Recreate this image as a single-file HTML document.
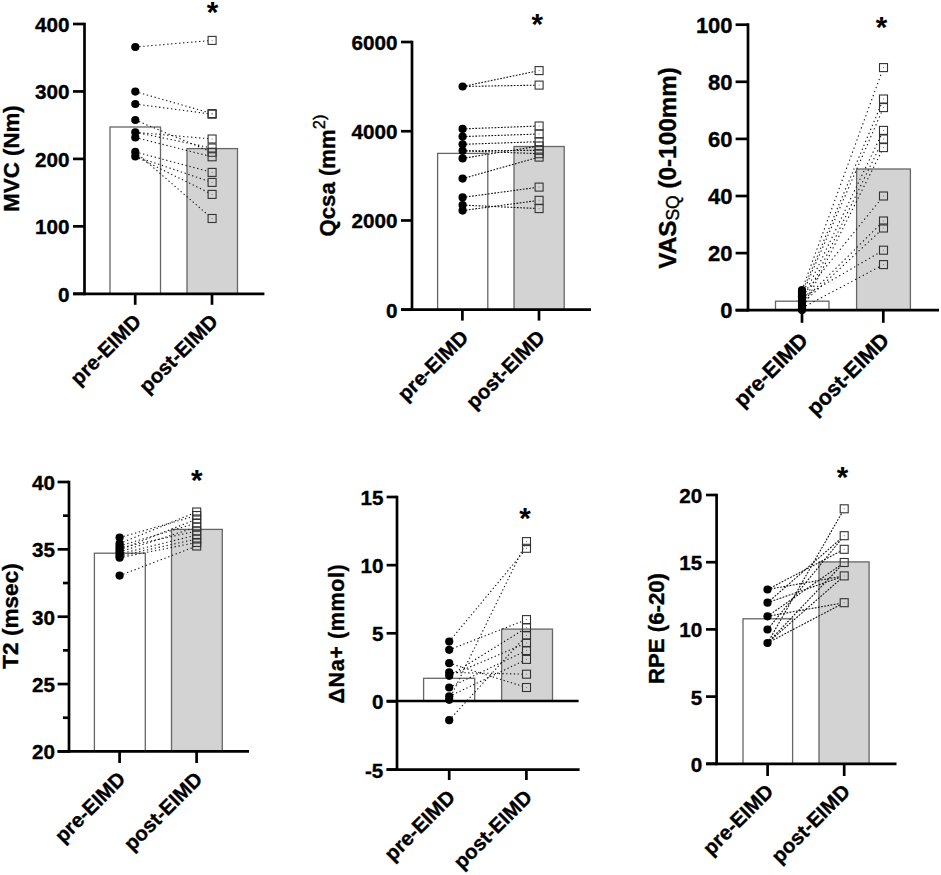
<!DOCTYPE html>
<html><head><meta charset="utf-8"><style>
html,body{margin:0;padding:0;background:#fff;}
svg{display:block;}
text{font-family:"Liberation Sans", sans-serif;font-weight:bold;fill:#000;stroke:#000;stroke-width:0.35px;}
</style></head><body>
<svg width="941" height="875" viewBox="0 0 941 875">
<line x1="84.5" y1="22.65" x2="84.5" y2="295.15000000000003" stroke="#000" stroke-width="2.7"/>
<line x1="73" y1="293.8" x2="84.5" y2="293.8" stroke="#000" stroke-width="2.7"/>
<text x="69.5" y="301.8" text-anchor="end" font-size="20.7">0</text>
<line x1="73" y1="226.35000000000002" x2="84.5" y2="226.35000000000002" stroke="#000" stroke-width="2.7"/>
<text x="69.5" y="234.35000000000002" text-anchor="end" font-size="20.7">100</text>
<line x1="73" y1="158.9" x2="84.5" y2="158.9" stroke="#000" stroke-width="2.7"/>
<text x="69.5" y="166.9" text-anchor="end" font-size="20.7">200</text>
<line x1="73" y1="91.44999999999999" x2="84.5" y2="91.44999999999999" stroke="#000" stroke-width="2.7"/>
<text x="69.5" y="99.44999999999999" text-anchor="end" font-size="20.7">300</text>
<line x1="73" y1="24.0" x2="84.5" y2="24.0" stroke="#000" stroke-width="2.7"/>
<text x="69.5" y="32.0" text-anchor="end" font-size="20.7">400</text>
<rect x="110" y="127" width="50.5" height="166.8" fill="#fff" stroke="#666" stroke-width="1.3"/>
<rect x="187" y="148.6" width="50.5" height="145.20000000000002" fill="#d3d3d3" stroke="#666" stroke-width="1.3"/>
<line x1="73" y1="293.8" x2="264.4" y2="293.8" stroke="#000" stroke-width="2.7"/>
<line x1="135.2" y1="293.8" x2="135.2" y2="304.8" stroke="#000" stroke-width="2.7"/>
<line x1="212.0" y1="293.8" x2="212.0" y2="304.8" stroke="#000" stroke-width="2.7"/>
<line x1="135.3" y1="47" x2="208.10" y2="40.74" stroke="#111" stroke-width="1.1" stroke-dasharray="1.3,2.7"/>
<line x1="135.3" y1="91.6" x2="208.10" y2="112.45" stroke="#111" stroke-width="1.1" stroke-dasharray="1.3,2.7"/>
<line x1="135.3" y1="104" x2="208.10" y2="113.67" stroke="#111" stroke-width="1.1" stroke-dasharray="1.3,2.7"/>
<line x1="135.3" y1="120" x2="208.10" y2="150.62" stroke="#111" stroke-width="1.1" stroke-dasharray="1.3,2.7"/>
<line x1="135.3" y1="132.3" x2="208.10" y2="138.65" stroke="#111" stroke-width="1.1" stroke-dasharray="1.3,2.7"/>
<line x1="135.3" y1="132.3" x2="208.10" y2="147.18" stroke="#111" stroke-width="1.1" stroke-dasharray="1.3,2.7"/>
<line x1="135.3" y1="137.5" x2="208.10" y2="155.79" stroke="#111" stroke-width="1.1" stroke-dasharray="1.3,2.7"/>
<line x1="135.3" y1="151.9" x2="208.10" y2="171.33" stroke="#111" stroke-width="1.1" stroke-dasharray="1.3,2.7"/>
<line x1="135.3" y1="156.4" x2="208.10" y2="181.05" stroke="#111" stroke-width="1.1" stroke-dasharray="1.3,2.7"/>
<line x1="135.3" y1="156.4" x2="208.10" y2="192.42" stroke="#111" stroke-width="1.1" stroke-dasharray="1.3,2.7"/>
<line x1="135.3" y1="151.9" x2="208.10" y2="215.03" stroke="#111" stroke-width="1.1" stroke-dasharray="1.3,2.7"/>
<circle cx="135.3" cy="47" r="4.1" fill="#000"/>
<circle cx="135.3" cy="91.6" r="4.1" fill="#000"/>
<circle cx="135.3" cy="104" r="4.1" fill="#000"/>
<circle cx="135.3" cy="120" r="4.1" fill="#000"/>
<circle cx="135.3" cy="132.3" r="4.1" fill="#000"/>
<circle cx="135.3" cy="137.5" r="4.1" fill="#000"/>
<circle cx="135.3" cy="151.9" r="4.1" fill="#000"/>
<circle cx="135.3" cy="156.4" r="4.1" fill="#000"/>
<rect x="208.1" y="36.4" width="8" height="8" fill="none" stroke="#333" stroke-width="1.1"/>
<rect x="211.6" y="39.9" width="1" height="1" fill="#777"/>
<rect x="208.1" y="109.6" width="8" height="8" fill="none" stroke="#333" stroke-width="1.1"/>
<rect x="211.6" y="113.1" width="1" height="1" fill="#777"/>
<rect x="208.1" y="110.2" width="8" height="8" fill="none" stroke="#333" stroke-width="1.1"/>
<rect x="211.6" y="113.7" width="1" height="1" fill="#777"/>
<rect x="208.1" y="135.0" width="8" height="8" fill="none" stroke="#333" stroke-width="1.1"/>
<rect x="211.6" y="138.5" width="1" height="1" fill="#777"/>
<rect x="208.1" y="144.0" width="8" height="8" fill="none" stroke="#333" stroke-width="1.1"/>
<rect x="211.6" y="147.5" width="1" height="1" fill="#777"/>
<rect x="208.1" y="148.3" width="8" height="8" fill="none" stroke="#333" stroke-width="1.1"/>
<rect x="211.6" y="151.8" width="1" height="1" fill="#777"/>
<rect x="208.1" y="152.8" width="8" height="8" fill="none" stroke="#333" stroke-width="1.1"/>
<rect x="211.6" y="156.3" width="1" height="1" fill="#777"/>
<rect x="208.1" y="168.4" width="8" height="8" fill="none" stroke="#333" stroke-width="1.1"/>
<rect x="211.6" y="171.9" width="1" height="1" fill="#777"/>
<rect x="208.1" y="178.4" width="8" height="8" fill="none" stroke="#333" stroke-width="1.1"/>
<rect x="211.6" y="181.9" width="1" height="1" fill="#777"/>
<rect x="208.1" y="190.4" width="8" height="8" fill="none" stroke="#333" stroke-width="1.1"/>
<rect x="211.6" y="193.9" width="1" height="1" fill="#777"/>
<rect x="208.1" y="214.5" width="8" height="8" fill="none" stroke="#333" stroke-width="1.1"/>
<rect x="211.6" y="218.0" width="1" height="1" fill="#777"/>
<text x="212.4" y="22.2" text-anchor="middle" font-size="29.5" style="stroke-width:0.1px">*</text>
<text transform="translate(142.39999999999998,322.8) rotate(-45)" text-anchor="end" font-size="20.5">pre-EIMD</text>
<text transform="translate(219.2,322.8) rotate(-45)" text-anchor="end" font-size="20.5">post-EIMD</text>
<text transform="translate(18.7,158.5) rotate(-90)" text-anchor="middle" font-size="22.3" letter-spacing="0">MVC (Nm)</text>
<line x1="412" y1="40.65999999999999" x2="412" y2="311.05" stroke="#000" stroke-width="2.7"/>
<line x1="401" y1="309.7" x2="412" y2="309.7" stroke="#000" stroke-width="2.7"/>
<text x="397.6" y="317.7" text-anchor="end" font-size="20.7">0</text>
<line x1="401" y1="220.46999999999997" x2="412" y2="220.46999999999997" stroke="#000" stroke-width="2.7"/>
<text x="397.6" y="228.46999999999997" text-anchor="end" font-size="20.7">2000</text>
<line x1="401" y1="131.23999999999998" x2="412" y2="131.23999999999998" stroke="#000" stroke-width="2.7"/>
<text x="397.6" y="139.23999999999998" text-anchor="end" font-size="20.7">4000</text>
<line x1="401" y1="42.00999999999999" x2="412" y2="42.00999999999999" stroke="#000" stroke-width="2.7"/>
<text x="397.6" y="50.00999999999999" text-anchor="end" font-size="20.7">6000</text>
<rect x="437.6" y="153.4" width="50.19999999999999" height="156.29999999999998" fill="#fff" stroke="#666" stroke-width="1.3"/>
<rect x="514" y="146.5" width="50.200000000000045" height="163.2" fill="#d3d3d3" stroke="#666" stroke-width="1.3"/>
<line x1="401" y1="309.7" x2="591" y2="309.7" stroke="#000" stroke-width="2.7"/>
<line x1="462.4" y1="309.7" x2="462.4" y2="320.6" stroke="#000" stroke-width="2.7"/>
<line x1="539.0" y1="309.7" x2="539.0" y2="320.6" stroke="#000" stroke-width="2.7"/>
<line x1="462.6" y1="86.5" x2="535.10" y2="71.43" stroke="#111" stroke-width="1.1" stroke-dasharray="1.7,1.5"/>
<line x1="462.6" y1="86.5" x2="535.10" y2="85.17" stroke="#111" stroke-width="1.1" stroke-dasharray="1.7,1.5"/>
<line x1="462.6" y1="128.9" x2="535.10" y2="126.15" stroke="#111" stroke-width="1.1" stroke-dasharray="1.7,1.5"/>
<line x1="462.6" y1="136.6" x2="535.10" y2="134.14" stroke="#111" stroke-width="1.1" stroke-dasharray="1.7,1.5"/>
<line x1="462.6" y1="144.3" x2="535.10" y2="141.84" stroke="#111" stroke-width="1.1" stroke-dasharray="1.7,1.5"/>
<line x1="462.6" y1="150.8" x2="535.10" y2="150.33" stroke="#111" stroke-width="1.1" stroke-dasharray="1.7,1.5"/>
<line x1="462.6" y1="150.8" x2="535.10" y2="153.55" stroke="#111" stroke-width="1.1" stroke-dasharray="1.7,1.5"/>
<line x1="462.6" y1="158.4" x2="535.10" y2="146.65" stroke="#111" stroke-width="1.1" stroke-dasharray="1.7,1.5"/>
<line x1="462.6" y1="178.6" x2="535.10" y2="158.22" stroke="#111" stroke-width="1.1" stroke-dasharray="1.7,1.5"/>
<line x1="462.6" y1="197.4" x2="535.10" y2="187.64" stroke="#111" stroke-width="1.1" stroke-dasharray="1.7,1.5"/>
<line x1="462.6" y1="205.1" x2="535.10" y2="208.42" stroke="#111" stroke-width="1.1" stroke-dasharray="1.7,1.5"/>
<line x1="462.6" y1="210.6" x2="535.10" y2="200.84" stroke="#111" stroke-width="1.1" stroke-dasharray="1.7,1.5"/>
<circle cx="462.6" cy="86.5" r="4.1" fill="#000"/>
<circle cx="462.6" cy="128.9" r="4.1" fill="#000"/>
<circle cx="462.6" cy="136.6" r="4.1" fill="#000"/>
<circle cx="462.6" cy="144.3" r="4.1" fill="#000"/>
<circle cx="462.6" cy="150.8" r="4.1" fill="#000"/>
<circle cx="462.6" cy="158.4" r="4.1" fill="#000"/>
<circle cx="462.6" cy="178.6" r="4.1" fill="#000"/>
<circle cx="462.6" cy="197.4" r="4.1" fill="#000"/>
<circle cx="462.6" cy="205.1" r="4.1" fill="#000"/>
<circle cx="462.6" cy="210.6" r="4.1" fill="#000"/>
<rect x="535.1" y="66.6" width="8" height="8" fill="none" stroke="#333" stroke-width="1.1"/>
<rect x="538.6" y="70.1" width="1" height="1" fill="#777"/>
<rect x="535.1" y="81.1" width="8" height="8" fill="none" stroke="#333" stroke-width="1.1"/>
<rect x="538.6" y="84.6" width="1" height="1" fill="#777"/>
<rect x="535.1" y="122.0" width="8" height="8" fill="none" stroke="#333" stroke-width="1.1"/>
<rect x="538.6" y="125.5" width="1" height="1" fill="#777"/>
<rect x="535.1" y="130.0" width="8" height="8" fill="none" stroke="#333" stroke-width="1.1"/>
<rect x="538.6" y="133.5" width="1" height="1" fill="#777"/>
<rect x="535.1" y="137.7" width="8" height="8" fill="none" stroke="#333" stroke-width="1.1"/>
<rect x="538.6" y="141.2" width="1" height="1" fill="#777"/>
<rect x="535.1" y="142.0" width="8" height="8" fill="none" stroke="#333" stroke-width="1.1"/>
<rect x="538.6" y="145.5" width="1" height="1" fill="#777"/>
<rect x="535.1" y="146.3" width="8" height="8" fill="none" stroke="#333" stroke-width="1.1"/>
<rect x="538.6" y="149.8" width="1" height="1" fill="#777"/>
<rect x="535.1" y="149.7" width="8" height="8" fill="none" stroke="#333" stroke-width="1.1"/>
<rect x="538.6" y="153.2" width="1" height="1" fill="#777"/>
<rect x="535.1" y="153.1" width="8" height="8" fill="none" stroke="#333" stroke-width="1.1"/>
<rect x="538.6" y="156.6" width="1" height="1" fill="#777"/>
<rect x="535.1" y="183.1" width="8" height="8" fill="none" stroke="#333" stroke-width="1.1"/>
<rect x="538.6" y="186.6" width="1" height="1" fill="#777"/>
<rect x="535.1" y="196.3" width="8" height="8" fill="none" stroke="#333" stroke-width="1.1"/>
<rect x="538.6" y="199.8" width="1" height="1" fill="#777"/>
<rect x="535.1" y="204.6" width="8" height="8" fill="none" stroke="#333" stroke-width="1.1"/>
<rect x="538.6" y="208.1" width="1" height="1" fill="#777"/>
<text x="537.2" y="34" text-anchor="middle" font-size="29.5" style="stroke-width:0.1px">*</text>
<text transform="translate(469.59999999999997,338.7) rotate(-45)" text-anchor="end" font-size="20.5">pre-EIMD</text>
<text transform="translate(546.2,338.7) rotate(-45)" text-anchor="end" font-size="20.5">post-EIMD</text>
<text transform="translate(334.6,175.5) rotate(-90)" text-anchor="middle" font-size="22.2" letter-spacing="0">Qcsa (mm<tspan font-size="16.5" font-weight="normal" stroke-width="0.4" dy="-9.6">2)</tspan></text>
<line x1="748" y1="23.349999999999987" x2="748" y2="311.55" stroke="#000" stroke-width="2.7"/>
<line x1="735.6" y1="310.2" x2="748" y2="310.2" stroke="#000" stroke-width="2.7"/>
<text x="732.6" y="318.2" text-anchor="end" font-size="22">0</text>
<line x1="735.6" y1="253.1" x2="748" y2="253.1" stroke="#000" stroke-width="2.7"/>
<text x="732.6" y="261.1" text-anchor="end" font-size="22">20</text>
<line x1="735.6" y1="196.0" x2="748" y2="196.0" stroke="#000" stroke-width="2.7"/>
<text x="732.6" y="204.0" text-anchor="end" font-size="22">40</text>
<line x1="735.6" y1="138.89999999999998" x2="748" y2="138.89999999999998" stroke="#000" stroke-width="2.7"/>
<text x="732.6" y="146.89999999999998" text-anchor="end" font-size="22">60</text>
<line x1="735.6" y1="81.79999999999998" x2="748" y2="81.79999999999998" stroke="#000" stroke-width="2.7"/>
<text x="732.6" y="89.79999999999998" text-anchor="end" font-size="22">80</text>
<line x1="735.6" y1="24.69999999999999" x2="748" y2="24.69999999999999" stroke="#000" stroke-width="2.7"/>
<text x="732.6" y="32.69999999999999" text-anchor="end" font-size="22">100</text>
<rect x="775.5" y="301.2" width="53.5" height="9.0" fill="#fff" stroke="#666" stroke-width="1.3"/>
<rect x="856.6" y="169" width="53.799999999999955" height="141.2" fill="#d3d3d3" stroke="#666" stroke-width="1.3"/>
<line x1="735.6" y1="310.2" x2="939" y2="310.2" stroke="#000" stroke-width="2.7"/>
<line x1="802" y1="310.2" x2="802" y2="322.8" stroke="#000" stroke-width="2.7"/>
<line x1="883.3" y1="310.2" x2="883.3" y2="322.8" stroke="#000" stroke-width="2.7"/>
<line x1="802" y1="290" x2="882.03" y2="71.60" stroke="#111" stroke-width="1.1" stroke-dasharray="1.3,3.0"/>
<line x1="802" y1="292.5" x2="881.82" y2="103.00" stroke="#111" stroke-width="1.1" stroke-dasharray="1.3,3.0"/>
<line x1="802" y1="295" x2="881.76" y2="111.60" stroke="#111" stroke-width="1.1" stroke-dasharray="1.3,3.0"/>
<line x1="802" y1="300" x2="881.58" y2="134.40" stroke="#111" stroke-width="1.1" stroke-dasharray="1.3,3.0"/>
<line x1="802" y1="306" x2="881.55" y2="143.00" stroke="#111" stroke-width="1.1" stroke-dasharray="1.3,3.0"/>
<line x1="802" y1="310" x2="881.49" y2="151.60" stroke="#111" stroke-width="1.1" stroke-dasharray="1.3,3.0"/>
<line x1="802" y1="296.5" x2="880.26" y2="200.00" stroke="#111" stroke-width="1.1" stroke-dasharray="1.3,3.0"/>
<line x1="802" y1="302" x2="879.50" y2="224.98" stroke="#111" stroke-width="1.1" stroke-dasharray="1.3,3.0"/>
<line x1="802" y1="304" x2="879.50" y2="231.73" stroke="#111" stroke-width="1.1" stroke-dasharray="1.3,3.0"/>
<line x1="802" y1="297.5" x2="879.50" y2="252.52" stroke="#111" stroke-width="1.1" stroke-dasharray="1.3,3.0"/>
<line x1="802" y1="308" x2="879.50" y2="266.73" stroke="#111" stroke-width="1.1" stroke-dasharray="1.3,3.0"/>
<circle cx="802" cy="290" r="4.1" fill="#000"/>
<circle cx="802" cy="292.5" r="4.1" fill="#000"/>
<circle cx="802" cy="295" r="4.1" fill="#000"/>
<circle cx="802" cy="297.5" r="4.1" fill="#000"/>
<circle cx="802" cy="300" r="4.1" fill="#000"/>
<circle cx="802" cy="302" r="4.1" fill="#000"/>
<circle cx="802" cy="304" r="4.1" fill="#000"/>
<circle cx="802" cy="306" r="4.1" fill="#000"/>
<circle cx="802" cy="308" r="4.1" fill="#000"/>
<circle cx="802" cy="310" r="4.1" fill="#000"/>
<circle cx="802" cy="296.5" r="4.1" fill="#000"/>
<rect x="879.5" y="63.599999999999994" width="8" height="8" fill="none" stroke="#333" stroke-width="1.1"/>
<rect x="883.0" y="67.1" width="1" height="1" fill="#777"/>
<rect x="879.5" y="95.0" width="8" height="8" fill="none" stroke="#333" stroke-width="1.1"/>
<rect x="883.0" y="98.5" width="1" height="1" fill="#777"/>
<rect x="879.5" y="103.6" width="8" height="8" fill="none" stroke="#333" stroke-width="1.1"/>
<rect x="883.0" y="107.1" width="1" height="1" fill="#777"/>
<rect x="879.5" y="126.4" width="8" height="8" fill="none" stroke="#333" stroke-width="1.1"/>
<rect x="883.0" y="129.9" width="1" height="1" fill="#777"/>
<rect x="879.5" y="135.0" width="8" height="8" fill="none" stroke="#333" stroke-width="1.1"/>
<rect x="883.0" y="138.5" width="1" height="1" fill="#777"/>
<rect x="879.5" y="143.6" width="8" height="8" fill="none" stroke="#333" stroke-width="1.1"/>
<rect x="883.0" y="147.1" width="1" height="1" fill="#777"/>
<rect x="879.5" y="192.0" width="8" height="8" fill="none" stroke="#333" stroke-width="1.1"/>
<rect x="883.0" y="195.5" width="1" height="1" fill="#777"/>
<rect x="879.5" y="217.0" width="8" height="8" fill="none" stroke="#333" stroke-width="1.1"/>
<rect x="883.0" y="220.5" width="1" height="1" fill="#777"/>
<rect x="879.5" y="224.0" width="8" height="8" fill="none" stroke="#333" stroke-width="1.1"/>
<rect x="883.0" y="227.5" width="1" height="1" fill="#777"/>
<rect x="879.5" y="246.2" width="8" height="8" fill="none" stroke="#333" stroke-width="1.1"/>
<rect x="883.0" y="249.7" width="1" height="1" fill="#777"/>
<rect x="879.5" y="260.6" width="8" height="8" fill="none" stroke="#333" stroke-width="1.1"/>
<rect x="883.0" y="264.1" width="1" height="1" fill="#777"/>
<text x="881.6" y="37" text-anchor="middle" font-size="29.5" style="stroke-width:0.1px">*</text>
<text transform="translate(809.3,341.7) rotate(-45)" text-anchor="end" font-size="21.5">pre-EIMD</text>
<text transform="translate(890.5999999999999,341.7) rotate(-45)" text-anchor="end" font-size="21.5">post-EIMD</text>
<text transform="translate(675.8,167.9) rotate(-90)" text-anchor="middle" font-size="24.3" letter-spacing="0">VAS<tspan font-size="17.5" font-weight="normal" stroke-width="0.4" dy="3.5">SQ</tspan><tspan dy="-3.5"> (0-100mm)</tspan></text>
<line x1="69" y1="480.65" x2="69" y2="752.75" stroke="#000" stroke-width="2.7"/>
<line x1="57.6" y1="751.4" x2="69" y2="751.4" stroke="#000" stroke-width="2.7"/>
<text x="55" y="759.4" text-anchor="end" font-size="20.7">20</text>
<line x1="57.6" y1="684.05" x2="69" y2="684.05" stroke="#000" stroke-width="2.7"/>
<text x="55" y="692.05" text-anchor="end" font-size="20.7">25</text>
<line x1="57.6" y1="616.7" x2="69" y2="616.7" stroke="#000" stroke-width="2.7"/>
<text x="55" y="624.7" text-anchor="end" font-size="20.7">30</text>
<line x1="57.6" y1="549.35" x2="69" y2="549.35" stroke="#000" stroke-width="2.7"/>
<text x="55" y="557.35" text-anchor="end" font-size="20.7">35</text>
<line x1="57.6" y1="482.0" x2="69" y2="482.0" stroke="#000" stroke-width="2.7"/>
<text x="55" y="490.0" text-anchor="end" font-size="20.7">40</text>
<line x1="63" y1="717.725" x2="69" y2="717.725" stroke="#000" stroke-width="2.7"/>
<line x1="63" y1="650.375" x2="69" y2="650.375" stroke="#000" stroke-width="2.7"/>
<line x1="63" y1="583.025" x2="69" y2="583.025" stroke="#000" stroke-width="2.7"/>
<line x1="63" y1="515.675" x2="69" y2="515.675" stroke="#000" stroke-width="2.7"/>
<rect x="94.4" y="553.2" width="50.900000000000006" height="198.19999999999993" fill="#fff" stroke="#666" stroke-width="1.3"/>
<rect x="171.5" y="529.4" width="50.80000000000001" height="222.0" fill="#d3d3d3" stroke="#666" stroke-width="1.3"/>
<line x1="57.6" y1="751.4" x2="249" y2="751.4" stroke="#000" stroke-width="2.7"/>
<line x1="119.6" y1="751.4" x2="119.6" y2="763" stroke="#000" stroke-width="2.7"/>
<line x1="196.6" y1="751.4" x2="196.6" y2="763" stroke="#000" stroke-width="2.7"/>
<line x1="119.6" y1="537.6" x2="192.70" y2="516.65" stroke="#111" stroke-width="1.1" stroke-dasharray="1.3,2.7"/>
<line x1="119.6" y1="543.6" x2="192.70" y2="513.64" stroke="#111" stroke-width="1.1" stroke-dasharray="1.3,2.7"/>
<line x1="119.6" y1="546" x2="192.70" y2="524.19" stroke="#111" stroke-width="1.1" stroke-dasharray="1.3,2.7"/>
<line x1="119.6" y1="548" x2="192.70" y2="531.88" stroke="#111" stroke-width="1.1" stroke-dasharray="1.3,2.7"/>
<line x1="119.6" y1="550" x2="192.70" y2="520.61" stroke="#111" stroke-width="1.1" stroke-dasharray="1.3,2.7"/>
<line x1="119.6" y1="552" x2="192.70" y2="528.30" stroke="#111" stroke-width="1.1" stroke-dasharray="1.3,2.7"/>
<line x1="119.6" y1="554" x2="192.70" y2="535.99" stroke="#111" stroke-width="1.1" stroke-dasharray="1.3,2.7"/>
<line x1="119.6" y1="556" x2="192.70" y2="539.88" stroke="#111" stroke-width="1.1" stroke-dasharray="1.3,2.7"/>
<line x1="119.6" y1="557.7" x2="192.70" y2="543.29" stroke="#111" stroke-width="1.1" stroke-dasharray="1.3,2.7"/>
<line x1="119.6" y1="575.6" x2="192.70" y2="547.54" stroke="#111" stroke-width="1.1" stroke-dasharray="1.3,2.7"/>
<circle cx="119.6" cy="537.6" r="4.1" fill="#000"/>
<circle cx="119.6" cy="543.6" r="4.1" fill="#000"/>
<circle cx="119.6" cy="546" r="4.1" fill="#000"/>
<circle cx="119.6" cy="548" r="4.1" fill="#000"/>
<circle cx="119.6" cy="550" r="4.1" fill="#000"/>
<circle cx="119.6" cy="552" r="4.1" fill="#000"/>
<circle cx="119.6" cy="554" r="4.1" fill="#000"/>
<circle cx="119.6" cy="556" r="4.1" fill="#000"/>
<circle cx="119.6" cy="557.7" r="4.1" fill="#000"/>
<circle cx="119.6" cy="575.6" r="4.1" fill="#000"/>
<rect x="192.7" y="508.0" width="8" height="8" fill="none" stroke="#333" stroke-width="1.1"/>
<rect x="196.2" y="511.5" width="1" height="1" fill="#777"/>
<rect x="192.7" y="511.5" width="8" height="8" fill="none" stroke="#333" stroke-width="1.1"/>
<rect x="196.2" y="515.0" width="1" height="1" fill="#777"/>
<rect x="192.7" y="515.0" width="8" height="8" fill="none" stroke="#333" stroke-width="1.1"/>
<rect x="196.2" y="518.5" width="1" height="1" fill="#777"/>
<rect x="192.7" y="519.0" width="8" height="8" fill="none" stroke="#333" stroke-width="1.1"/>
<rect x="196.2" y="522.5" width="1" height="1" fill="#777"/>
<rect x="192.7" y="523.0" width="8" height="8" fill="none" stroke="#333" stroke-width="1.1"/>
<rect x="196.2" y="526.5" width="1" height="1" fill="#777"/>
<rect x="192.7" y="527.0" width="8" height="8" fill="none" stroke="#333" stroke-width="1.1"/>
<rect x="196.2" y="530.5" width="1" height="1" fill="#777"/>
<rect x="192.7" y="531.0" width="8" height="8" fill="none" stroke="#333" stroke-width="1.1"/>
<rect x="196.2" y="534.5" width="1" height="1" fill="#777"/>
<rect x="192.7" y="535.0" width="8" height="8" fill="none" stroke="#333" stroke-width="1.1"/>
<rect x="196.2" y="538.5" width="1" height="1" fill="#777"/>
<rect x="192.7" y="538.5" width="8" height="8" fill="none" stroke="#333" stroke-width="1.1"/>
<rect x="196.2" y="542.0" width="1" height="1" fill="#777"/>
<rect x="192.7" y="542.0" width="8" height="8" fill="none" stroke="#333" stroke-width="1.1"/>
<rect x="196.2" y="545.5" width="1" height="1" fill="#777"/>
<text x="196.8" y="490" text-anchor="middle" font-size="29.5" style="stroke-width:0.1px">*</text>
<text transform="translate(126.8,780.4) rotate(-45)" text-anchor="end" font-size="20.5">pre-EIMD</text>
<text transform="translate(203.79999999999998,780.4) rotate(-45)" text-anchor="end" font-size="20.5">post-EIMD</text>
<text transform="translate(18.0,616.0) rotate(-90)" text-anchor="middle" font-size="22.6" letter-spacing="0">T2 (msec)</text>
<line x1="397" y1="495.65" x2="397" y2="770.95" stroke="#000" stroke-width="2.7"/>
<line x1="386.6" y1="769.6" x2="397" y2="769.6" stroke="#000" stroke-width="2.7"/>
<text x="383.4" y="777.6" text-anchor="end" font-size="20.7">-5</text>
<line x1="386.6" y1="701.45" x2="397" y2="701.45" stroke="#000" stroke-width="2.7"/>
<text x="383.4" y="709.45" text-anchor="end" font-size="20.7">0</text>
<line x1="386.6" y1="633.3" x2="397" y2="633.3" stroke="#000" stroke-width="2.7"/>
<text x="383.4" y="641.3" text-anchor="end" font-size="20.7">5</text>
<line x1="386.6" y1="565.15" x2="397" y2="565.15" stroke="#000" stroke-width="2.7"/>
<text x="383.4" y="573.15" text-anchor="end" font-size="20.7">10</text>
<line x1="386.6" y1="497.0" x2="397" y2="497.0" stroke="#000" stroke-width="2.7"/>
<text x="383.4" y="505.0" text-anchor="end" font-size="20.7">15</text>
<rect x="423.6" y="678.3" width="51.099999999999966" height="22.700000000000045" fill="#fff" stroke="#666" stroke-width="1.3"/>
<rect x="501.6" y="629.1" width="50.89999999999998" height="71.89999999999998" fill="#d3d3d3" stroke="#666" stroke-width="1.3"/>
<line x1="386.6" y1="701.0" x2="578.6" y2="701.0" stroke="#000" stroke-width="2.7"/>
<line x1="386.6" y1="769.6" x2="579.6" y2="769.6" stroke="#000" stroke-width="2.7"/>
<line x1="449.2" y1="769.6" x2="449.2" y2="780" stroke="#000" stroke-width="2.7"/>
<line x1="526.4" y1="769.6" x2="526.4" y2="780" stroke="#000" stroke-width="2.7"/>
<line x1="449.2" y1="641.6" x2="523.19" y2="552.30" stroke="#111" stroke-width="1.1" stroke-dasharray="1.3,2.5"/>
<line x1="449.2" y1="699.8" x2="524.55" y2="545.60" stroke="#111" stroke-width="1.1" stroke-dasharray="1.3,2.5"/>
<line x1="449.2" y1="649.8" x2="522.50" y2="621.16" stroke="#111" stroke-width="1.1" stroke-dasharray="1.3,2.5"/>
<line x1="449.2" y1="720.2" x2="522.85" y2="639.40" stroke="#111" stroke-width="1.1" stroke-dasharray="1.3,2.5"/>
<line x1="449.2" y1="663.2" x2="522.50" y2="686.24" stroke="#111" stroke-width="1.1" stroke-dasharray="1.3,2.5"/>
<line x1="449.2" y1="672.4" x2="522.50" y2="674.11" stroke="#111" stroke-width="1.1" stroke-dasharray="1.3,2.5"/>
<line x1="449.2" y1="675.8" x2="522.50" y2="630.28" stroke="#111" stroke-width="1.1" stroke-dasharray="1.3,2.5"/>
<line x1="449.2" y1="687.5" x2="522.50" y2="652.41" stroke="#111" stroke-width="1.1" stroke-dasharray="1.3,2.5"/>
<line x1="449.2" y1="696.4" x2="522.50" y2="661.31" stroke="#111" stroke-width="1.1" stroke-dasharray="1.3,2.5"/>
<line x1="449.2" y1="675.8" x2="522.50" y2="644.60" stroke="#111" stroke-width="1.1" stroke-dasharray="1.3,2.5"/>
<circle cx="449.2" cy="641.6" r="4.1" fill="#000"/>
<circle cx="449.2" cy="649.8" r="4.1" fill="#000"/>
<circle cx="449.2" cy="663.2" r="4.1" fill="#000"/>
<circle cx="449.2" cy="672.4" r="4.1" fill="#000"/>
<circle cx="449.2" cy="675.8" r="4.1" fill="#000"/>
<circle cx="449.2" cy="687.5" r="4.1" fill="#000"/>
<circle cx="449.2" cy="696.4" r="4.1" fill="#000"/>
<circle cx="449.2" cy="699.8" r="4.1" fill="#000"/>
<circle cx="449.2" cy="720.2" r="4.1" fill="#000"/>
<rect x="522.5" y="537.6" width="8" height="8" fill="none" stroke="#333" stroke-width="1.1"/>
<rect x="526.0" y="541.1" width="1" height="1" fill="#777"/>
<rect x="522.5" y="544.3" width="8" height="8" fill="none" stroke="#333" stroke-width="1.1"/>
<rect x="526.0" y="547.8" width="1" height="1" fill="#777"/>
<rect x="522.5" y="615.6" width="8" height="8" fill="none" stroke="#333" stroke-width="1.1"/>
<rect x="526.0" y="619.1" width="1" height="1" fill="#777"/>
<rect x="522.5" y="623.8" width="8" height="8" fill="none" stroke="#333" stroke-width="1.1"/>
<rect x="526.0" y="627.3" width="1" height="1" fill="#777"/>
<rect x="522.5" y="631.4" width="8" height="8" fill="none" stroke="#333" stroke-width="1.1"/>
<rect x="526.0" y="634.9" width="1" height="1" fill="#777"/>
<rect x="522.5" y="638.9" width="8" height="8" fill="none" stroke="#333" stroke-width="1.1"/>
<rect x="526.0" y="642.4" width="1" height="1" fill="#777"/>
<rect x="522.5" y="646.5" width="8" height="8" fill="none" stroke="#333" stroke-width="1.1"/>
<rect x="526.0" y="650.0" width="1" height="1" fill="#777"/>
<rect x="522.5" y="655.4" width="8" height="8" fill="none" stroke="#333" stroke-width="1.1"/>
<rect x="526.0" y="658.9" width="1" height="1" fill="#777"/>
<rect x="522.5" y="670.2" width="8" height="8" fill="none" stroke="#333" stroke-width="1.1"/>
<rect x="526.0" y="673.7" width="1" height="1" fill="#777"/>
<rect x="522.5" y="683.5" width="8" height="8" fill="none" stroke="#333" stroke-width="1.1"/>
<rect x="526.0" y="687.0" width="1" height="1" fill="#777"/>
<text x="525.1" y="528" text-anchor="middle" font-size="29.5" style="stroke-width:0.1px">*</text>
<text transform="translate(456.4,798.6) rotate(-45)" text-anchor="end" font-size="20.5">pre-EIMD</text>
<text transform="translate(533.6,798.6) rotate(-45)" text-anchor="end" font-size="20.5">post-EIMD</text>
<text transform="translate(343.5,633.6) rotate(-90)" text-anchor="middle" font-size="21.5" letter-spacing="0.6">ΔNa+ (mmol)</text>
<line x1="716.6" y1="493.6499999999999" x2="716.6" y2="765.15" stroke="#000" stroke-width="2.7"/>
<line x1="706" y1="763.8" x2="716.6" y2="763.8" stroke="#000" stroke-width="2.7"/>
<text x="702.2" y="771.8" text-anchor="end" font-size="20.7">0</text>
<line x1="706" y1="696.5999999999999" x2="716.6" y2="696.5999999999999" stroke="#000" stroke-width="2.7"/>
<text x="702.2" y="704.5999999999999" text-anchor="end" font-size="20.7">5</text>
<line x1="706" y1="629.4" x2="716.6" y2="629.4" stroke="#000" stroke-width="2.7"/>
<text x="702.2" y="637.4" text-anchor="end" font-size="20.7">10</text>
<line x1="706" y1="562.1999999999999" x2="716.6" y2="562.1999999999999" stroke="#000" stroke-width="2.7"/>
<text x="702.2" y="570.1999999999999" text-anchor="end" font-size="20.7">15</text>
<line x1="706" y1="494.99999999999994" x2="716.6" y2="494.99999999999994" stroke="#000" stroke-width="2.7"/>
<text x="702.2" y="502.99999999999994" text-anchor="end" font-size="20.7">20</text>
<rect x="743" y="618.8" width="49.60000000000002" height="145.0" fill="#fff" stroke="#666" stroke-width="1.3"/>
<rect x="819" y="561.9" width="50.10000000000002" height="201.89999999999998" fill="#d3d3d3" stroke="#666" stroke-width="1.3"/>
<line x1="706" y1="763.8" x2="896.5" y2="763.8" stroke="#000" stroke-width="2.7"/>
<line x1="767.6" y1="763.8" x2="767.6" y2="776" stroke="#000" stroke-width="2.7"/>
<line x1="844.2" y1="763.8" x2="844.2" y2="776" stroke="#000" stroke-width="2.7"/>
<line x1="767.5" y1="643" x2="841.91" y2="512.80" stroke="#111" stroke-width="1.1" stroke-dasharray="1.8,1.4"/>
<line x1="767.5" y1="602.7" x2="840.20" y2="539.19" stroke="#111" stroke-width="1.1" stroke-dasharray="1.8,1.4"/>
<line x1="767.5" y1="589.5" x2="840.20" y2="551.40" stroke="#111" stroke-width="1.1" stroke-dasharray="1.8,1.4"/>
<line x1="767.5" y1="629.5" x2="840.93" y2="539.70" stroke="#111" stroke-width="1.1" stroke-dasharray="1.8,1.4"/>
<line x1="767.5" y1="616.3" x2="840.20" y2="565.31" stroke="#111" stroke-width="1.1" stroke-dasharray="1.8,1.4"/>
<line x1="767.5" y1="643" x2="840.39" y2="566.50" stroke="#111" stroke-width="1.1" stroke-dasharray="1.8,1.4"/>
<line x1="767.5" y1="589.5" x2="840.20" y2="576.61" stroke="#111" stroke-width="1.1" stroke-dasharray="1.8,1.4"/>
<line x1="767.5" y1="602.7" x2="840.20" y2="577.30" stroke="#111" stroke-width="1.1" stroke-dasharray="1.8,1.4"/>
<line x1="767.5" y1="643" x2="840.20" y2="579.40" stroke="#111" stroke-width="1.1" stroke-dasharray="1.8,1.4"/>
<line x1="767.5" y1="616.3" x2="840.20" y2="603.41" stroke="#111" stroke-width="1.1" stroke-dasharray="1.8,1.4"/>
<line x1="767.5" y1="643" x2="840.20" y2="604.80" stroke="#111" stroke-width="1.1" stroke-dasharray="1.8,1.4"/>
<circle cx="767.5" cy="589.5" r="4.1" fill="#000"/>
<circle cx="767.5" cy="602.7" r="4.1" fill="#000"/>
<circle cx="767.5" cy="616.3" r="4.1" fill="#000"/>
<circle cx="767.5" cy="629.5" r="4.1" fill="#000"/>
<circle cx="767.5" cy="643" r="4.1" fill="#000"/>
<rect x="840.2" y="504.8" width="8" height="8" fill="none" stroke="#333" stroke-width="1.1"/>
<rect x="843.7" y="508.3" width="1" height="1" fill="#777"/>
<rect x="840.2" y="531.7" width="8" height="8" fill="none" stroke="#333" stroke-width="1.1"/>
<rect x="843.7" y="535.2" width="1" height="1" fill="#777"/>
<rect x="840.2" y="545.3" width="8" height="8" fill="none" stroke="#333" stroke-width="1.1"/>
<rect x="843.7" y="548.8" width="1" height="1" fill="#777"/>
<rect x="840.2" y="558.5" width="8" height="8" fill="none" stroke="#333" stroke-width="1.1"/>
<rect x="843.7" y="562.0" width="1" height="1" fill="#777"/>
<rect x="840.2" y="571.9" width="8" height="8" fill="none" stroke="#333" stroke-width="1.1"/>
<rect x="843.7" y="575.4" width="1" height="1" fill="#777"/>
<rect x="840.2" y="598.7" width="8" height="8" fill="none" stroke="#333" stroke-width="1.1"/>
<rect x="843.7" y="602.2" width="1" height="1" fill="#777"/>
<text x="842.4" y="487" text-anchor="middle" font-size="29.5" style="stroke-width:0.1px">*</text>
<text transform="translate(774.8000000000001,792.8) rotate(-45)" text-anchor="end" font-size="20.5">pre-EIMD</text>
<text transform="translate(851.4000000000001,792.8) rotate(-45)" text-anchor="end" font-size="20.5">post-EIMD</text>
<text transform="translate(663.5,628.5) rotate(-90)" text-anchor="middle" font-size="22.2" letter-spacing="0">RPE (6-20)</text>
</svg></body></html>
